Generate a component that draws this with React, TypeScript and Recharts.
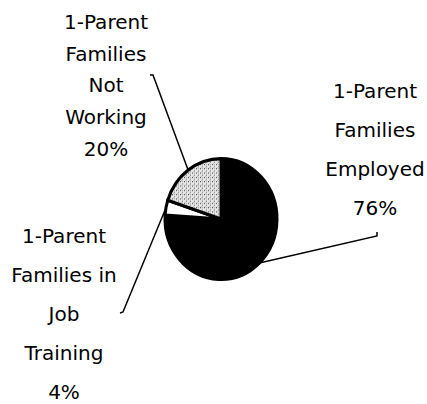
import { PieChart, Pie, Cell, Sector } from "recharts";

const categories = [
  "1-Parent Families Employed",
  "1-Parent Families in Job Training",
  "1-Parent Families Not Working",
];
const shares = [76, 4, 20];
const labelLines = [
  ["1-Parent", "Families", "Employed", "76%"],
  ["1-Parent", "Families in", "Job", "Training", "4%"],
  ["1-Parent", "Families", "Not", "Working", "20%"],
];

const data = categories.map((name, i) => ({ name, value: shares[i] }));

const W = 427;
const H = 404;
const CX = 221;
const CY = 219;
const R = 56;
const SQUASH = 1.08; // the pie in the original is a touch taller than wide
const FONT = "'Comic Sans MS', 'DejaVu Sans', sans-serif";

const fills = ["#000000", "#ffffff", "url(#stipple)"];

// callout line end, little hook, text block position (all relative to pie centre)
const callouts = [
  { end: [156, 17], hook: [0, -4], text: [154, -121], gap: 39 },
  { end: [-98, 93], hook: [-3, 1], text: [-157, 24], gap: 39 },
  { end: [-68, -144], hook: [-3, 0], text: [-115, -190], gap: 31.7 },
];

function SquashedSector(props: any) {
  const { cy } = props;
  return (
    <g transform={`translate(0 ${cy}) scale(1 ${SQUASH}) translate(0 ${-cy})`}>
      <Sector {...props} />
    </g>
  );
}

function renderLabel(props: any) {
  const { cx, cy, midAngle, outerRadius, index } = props;
  const c = callouts[index];
  const rad = (-midAngle * Math.PI) / 180;
  const sx = cx + outerRadius * Math.cos(rad);
  const sy = cy + outerRadius * SQUASH * Math.sin(rad);
  const ex = cx + c.end[0];
  const ey = cy + c.end[1];
  const tx = cx + c.text[0];
  const ty = cy + c.text[1];
  return (
    <g key={`lbl-${index}`}>
      <polyline
        points={`${sx},${sy} ${ex},${ey} ${ex + c.hook[0]},${ey + c.hook[1]}`}
        fill="none"
        stroke="#000"
        strokeWidth={1.5}
      />
      <text textAnchor="middle" fontFamily={FONT} fontSize={20} fill="#000">
        {labelLines[index].map((t, k) => (
          <tspan key={k} x={tx} y={ty + k * c.gap}>
            {t}
          </tspan>
        ))}
      </text>
    </g>
  );
}

export default function App() {
  return (
    <div style={{ position: "absolute", left: 0, top: 0, width: W, height: H, background: "#fff" }}>
      <PieChart width={W} height={H} margin={{ top: 0, right: 0, bottom: 0, left: 0 }}>
        <defs>
          <pattern id="stipple" width="4" height="4" patternUnits="userSpaceOnUse">
            <rect width="4" height="4" fill="#e6e6e6" />
            <rect x="0" y="0" width="1" height="1" fill="#444" />
            <rect x="2" y="2" width="1" height="1" fill="#777" />
            <rect x="2" y="0" width="1" height="1" fill="#aaa" />
            <rect x="1" y="3" width="1" height="1" fill="#bbb" />
          </pattern>
        </defs>
        <Pie
          data={data}
          dataKey="value"
          nameKey="name"
          cx={CX}
          cy={CY}
          outerRadius={R}
          startAngle={90}
          endAngle={-270}
          stroke="#000"
          strokeWidth={3}
          label={renderLabel}
          labelLine={false}
          shape={SquashedSector}
          isAnimationActive={false}
        >
          {data.map((d, i) => (
            <Cell key={d.name} fill={fills[i]} />
          ))}
        </Pie>
      </PieChart>
    </div>
  );
}
